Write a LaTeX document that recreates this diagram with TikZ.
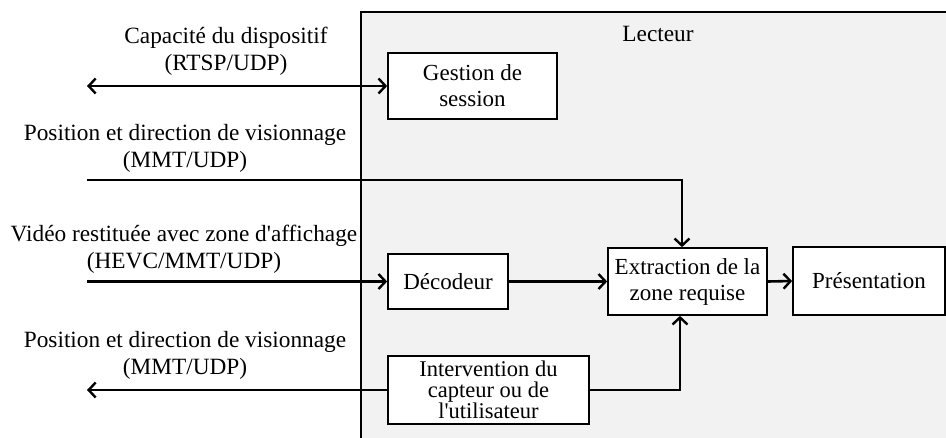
\documentclass[tikz,border=0pt]{standalone}
\usepackage{fontspec}
\setmainfont{Liberation Serif}[Ligatures=TeXOff]
\usetikzlibrary{arrows.meta}
\begin{document}
\begin{tikzpicture}[x=1pt,y=-1pt,
  box/.style={draw,line width=1.7pt,fill=white,inner sep=0pt,align=center,
    font=\fontsize{23}{26}\selectfont},
  lbl/.style={align=center,inner sep=0pt,font=\fontsize{23.3}{27}\selectfont},
  conn/.style={line width=2.6pt,-{Straight Barb[length=7pt,width=15pt,line width=2.4pt]}},
  >={Straight Barb[length=7pt,width=15pt,line width=2.4pt]}]
\useasboundingbox (0,0) rectangle (946,437);
% Lecteur area
\fill[gray!10] (361,12) rectangle (950,440);
\draw[line width=2.6pt] (361,440) -- (361,12) -- (950,12);
\node[lbl] (lecteur) at (658,34) {Lecteur};
% boxes
\node[box,minimum width=169pt,minimum height=66pt] (gestion) at (472.5,86) {Gestion de\\session};
\node[box,minimum width=120pt,minimum height=55pt] (decodeur) at (448,281.5) {Décodeur};
\node[box,minimum width=159pt,minimum height=67pt] (extraction) at (687.5,281.5) {Extraction de la\\zone requise};
\node[box,minimum width=152pt,minimum height=68pt] (presentation) at (869,281) {Présentation};
\node[box,minimum width=201pt,minimum height=68pt,font=\fontsize{22.5}{21}\selectfont] (intervention) at (488.5,390) {Intervention du\\capteur ou de\\l'utilisateur};
% free ends
\coordinate (a1) at (87,86);
\coordinate (a2) at (87,180);
\coordinate (t2) at (682,180);
\coordinate (a3) at (87,281.5);
\coordinate (a4) at (87,390);
\coordinate (b2) at (680,390);
% labels
\node[lbl] (l1) at (226,51) {Capacité du dispositif\\(RTSP/UDP)};
\node[lbl] (l2) at (185,148) {Position et direction de visionnage\\(MMT/UDP)};
\node[lbl] (l3) at (184,249) {Vidéo restituée avec zone d'affichage\\(HEVC/MMT/UDP)};
\node[lbl] (l4) at (185,355) {Position et direction de visionnage\\(MMT/UDP)};
% connectors
\draw[conn,<->] (a1) -- (gestion.west);
\draw[conn] (a2) -- (t2) -- (t2 |- extraction.north);
\draw[conn] (a3) -- (decodeur.west);
\draw[conn] (decodeur.east) -- (extraction.west);
\draw[conn] (extraction.east) -- (presentation.west);
\draw[conn] (intervention.east) -- (b2) -- (b2 |- extraction.south);
\draw[conn] (intervention.west) -- (a4);
\end{tikzpicture}
\end{document}
